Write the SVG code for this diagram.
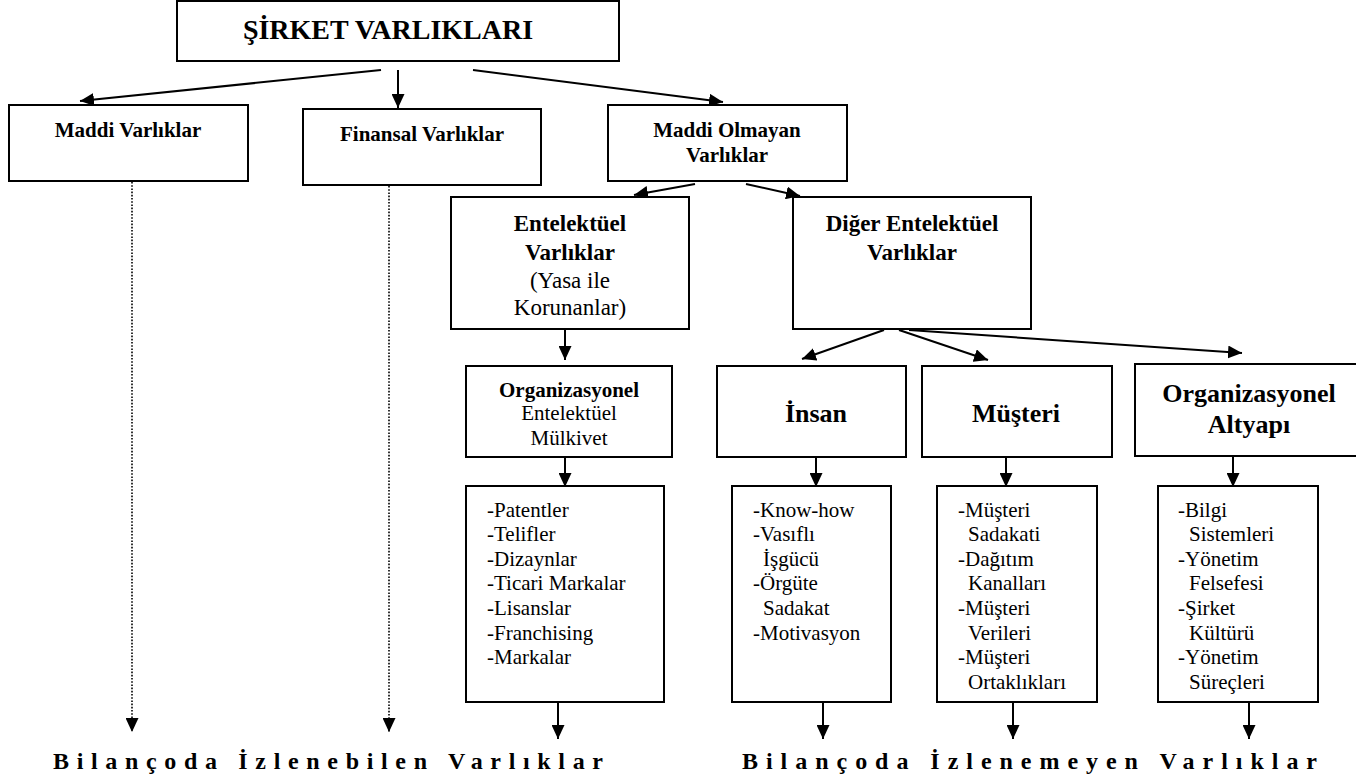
<svg xmlns="http://www.w3.org/2000/svg" width="1356" height="780" viewBox="0 0 1356 780">
<style>
.box{fill:#fff;stroke:#000;stroke-width:2}
.t{font-family:"Liberation Serif","Times New Roman",serif;fill:#000}
.b{font-weight:bold}
.c{text-anchor:middle}
.lst{font-family:"Liberation Serif","Times New Roman",serif;font-size:21px;fill:#000}
.con{stroke:#000;stroke-width:2;fill:none;marker-end:url(#ah)}
.dot{stroke:#000;stroke-width:1.6;fill:none;stroke-dasharray:1.6 1.6;marker-end:url(#ah)}
</style>
<defs>
<marker id="ah" viewBox="0 0 14 13" refX="14" refY="6.5" markerWidth="14" markerHeight="13" markerUnits="userSpaceOnUse" orient="auto">
<path d="M0,0 L14,6.5 L0,13 z" fill="#000"/>
</marker>
</defs>
<rect width="1356" height="780" fill="#fff"/>

<g id="connectors">
<line class="con" x1="381" y1="70" x2="80" y2="101"/>
<line class="con" x1="398" y1="70" x2="398" y2="108"/>
<line class="con" x1="473" y1="70" x2="723" y2="102"/>
<line class="dot" x1="132" y1="182" x2="132" y2="732"/>
<line class="dot" x1="389" y1="186" x2="389" y2="732"/>
<line class="con" x1="695" y1="184" x2="634" y2="195"/>
<line class="con" x1="746" y1="184" x2="800" y2="196"/>
<line class="con" x1="565" y1="330" x2="565" y2="360"/>
<line class="con" x1="884" y1="330" x2="802" y2="359"/>
<line class="con" x1="899" y1="330" x2="988" y2="360"/>
<line class="con" x1="909" y1="330" x2="1242" y2="353"/>
<line class="con" x1="565" y1="458" x2="565" y2="487"/>
<line class="con" x1="816" y1="458" x2="816" y2="487"/>
<line class="con" x1="1006" y1="458" x2="1006" y2="487"/>
<line class="con" x1="1233" y1="457" x2="1233" y2="487"/>
<line class="con" x1="558" y1="703" x2="558" y2="739"/>
<line class="con" x1="823" y1="703" x2="823" y2="739"/>
<line class="con" x1="1013" y1="703" x2="1013" y2="739"/>
<line class="con" x1="1249" y1="703" x2="1249" y2="739"/>
</g>

<g id="sirket-varliklari">
<rect class="box" x="177" y="1" width="442" height="60"/>
<text class="t b c" x="388" y="39" font-size="28">ŞİRKET VARLIKLARI</text>
</g>

<g id="maddi-varliklar">
<rect class="box" x="9" y="105" width="239" height="76"/>
<text class="t b c" x="128" y="137" font-size="21">Maddi Varlıklar</text>
</g>

<g id="finansal-varliklar">
<rect class="box" x="303" y="109" width="238" height="76"/>
<text class="t b c" x="422" y="141" font-size="21">Finansal Varlıklar</text>
</g>

<g id="maddi-olmayan-varliklar">
<rect class="box" x="608" y="105" width="239" height="76"/>
<text class="t b c" x="727" y="137" font-size="21">Maddi Olmayan</text>
<text class="t b c" x="727" y="162" font-size="21">Varlıklar</text>
</g>

<g id="entelektuel-varliklar">
<rect class="box" x="451" y="197" width="238" height="132"/>
<text class="t b c" x="570" y="231" font-size="23">Entelektüel</text>
<text class="t b c" x="570" y="260" font-size="23">Varlıklar</text>
<text class="t c" x="570" y="288" font-size="23">(Yasa ile</text>
<text class="t c" x="570" y="315" font-size="23">Korunanlar)</text>
</g>

<g id="diger-entelektuel-varliklar">
<rect class="box" x="793" y="197" width="238" height="132"/>
<text class="t b c" x="912" y="231" font-size="23">Diğer Entelektüel</text>
<text class="t b c" x="912" y="260" font-size="23">Varlıklar</text>
</g>

<g id="organizasyonel-entelektuel-mulkiyet">
<rect class="box" x="466" y="366" width="206" height="91"/>
<text class="t b c" x="569" y="397" font-size="21">Organizasyonel</text>
<text class="t c" x="569" y="420" font-size="21">Entelektüel</text>
<text class="t c" x="569" y="445" font-size="21">Mülkivet</text>
</g>

<g id="insan">
<rect class="box" x="717" y="366" width="189" height="91"/>
<text class="t b c" x="816" y="422" font-size="26">İnsan</text>
</g>

<g id="musteri">
<rect class="box" x="922" y="366" width="190" height="91"/>
<text class="t b c" x="1016" y="422" font-size="26">Müşteri</text>
</g>

<g id="organizasyonel-altyapi">
<rect class="box" x="1135" y="364" width="230" height="92"/>
<text class="t b c" x="1249" y="402" font-size="26">Organizasyonel</text>
<text class="t b c" x="1249" y="433" font-size="26">Altyapı</text>
</g>

<g id="liste-mulkiyet">
<rect class="box" x="466" y="486" width="198" height="216"/>
<text class="lst" x="487" y="517">-Patentler</text>
<text class="lst" x="487" y="541">-Telifler</text>
<text class="lst" x="487" y="566">-Dizaynlar</text>
<text class="lst" x="487" y="590">-Ticari Markalar</text>
<text class="lst" x="487" y="615">-Lisanslar</text>
<text class="lst" x="487" y="640">-Franchising</text>
<text class="lst" x="487" y="664">-Markalar</text>
</g>

<g id="liste-insan">
<rect class="box" x="732" y="486" width="159" height="216"/>
<text class="lst" x="753" y="517">-Know-how</text>
<text class="lst" x="753" y="541">-Vasıflı</text>
<text class="lst" x="763" y="566">İşgücü</text>
<text class="lst" x="753" y="590">-Örgüte</text>
<text class="lst" x="763" y="615">Sadakat</text>
<text class="lst" x="753" y="640">-Motivasyon</text>
</g>

<g id="liste-musteri">
<rect class="box" x="937" y="486" width="160" height="216"/>
<text class="lst" x="958" y="517">-Müşteri</text>
<text class="lst" x="968" y="541">Sadakati</text>
<text class="lst" x="958" y="566">-Dağıtım</text>
<text class="lst" x="968" y="590">Kanalları</text>
<text class="lst" x="958" y="615">-Müşteri</text>
<text class="lst" x="968" y="640">Verileri</text>
<text class="lst" x="958" y="664">-Müşteri</text>
<text class="lst" x="968" y="689">Ortaklıkları</text>
</g>

<g id="liste-altyapi">
<rect class="box" x="1158" y="486" width="160" height="216"/>
<text class="lst" x="1178" y="517">-Bilgi</text>
<text class="lst" x="1189" y="541">Sistemleri</text>
<text class="lst" x="1178" y="566">-Yönetim</text>
<text class="lst" x="1189" y="590">Felsefesi</text>
<text class="lst" x="1178" y="615">-Şirket</text>
<text class="lst" x="1189" y="640">Kültürü</text>
<text class="lst" x="1178" y="664">-Yönetim</text>
<text class="lst" x="1189" y="689">Süreçleri</text>
</g>

<g id="bilancoda-izlenebilen">
<text class="t b" x="53" y="769" font-size="24" textLength="550" lengthAdjust="spacing">Bilançoda İzlenebilen Varlıklar</text>
</g>
<g id="bilancoda-izlenemeyen">
<text class="t b" x="742" y="769" font-size="24" textLength="575" lengthAdjust="spacing">Bilançoda İzlenemeyen Varlıklar</text>
</g>
</svg>
